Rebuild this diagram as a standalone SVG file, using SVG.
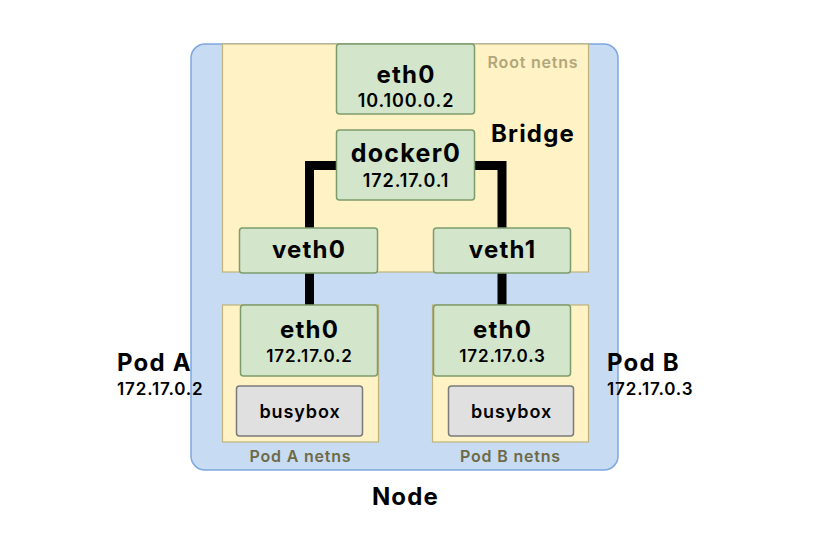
<svg xmlns="http://www.w3.org/2000/svg" width="824" height="559" viewBox="0 0 824 559">
<style>
text{font-family:Inter,"Noto Sans","Liberation Sans",sans-serif;text-anchor:middle;fill:#000;letter-spacing:0.05em}
.b{font-weight:700}
.s{font-weight:600}
.ns{fill:#fff2c4;stroke:#bfb27a;stroke-width:1.2}
.if{fill:#d3e6cb;stroke:#7d9c6c;stroke-width:1.5}
.bb{fill:#e0e0e0;stroke:#7a7a7a;stroke-width:1.5}
.wire{fill:none;stroke:#000;stroke-width:9}
</style>
<rect width="824" height="559" fill="#fff"/>
<g id="node">
<rect x="191" y="44" width="427" height="426" rx="14" fill="#c7dcf3" stroke="#7ea6e0" stroke-width="1.5"/>
<text class="b" x="405.5" y="505" font-size="24">Node</text>
</g>
<g id="root-netns">
<rect class="ns" x="222.5" y="44" width="366" height="228"/>
<text class="s" x="533" y="68" font-size="16" style="fill:#b1a77b">Root netns</text>
<text class="b" x="533" y="142" font-size="24">Bridge</text>
</g>
<g id="pod-a-netns">
<rect class="ns" x="222.5" y="305" width="156" height="137"/>
<text class="s" x="300.5" y="462" font-size="16" style="fill:#6e6a45">Pod A netns</text>
</g>
<g id="pod-b-netns">
<rect class="ns" x="432.5" y="305" width="156" height="137"/>
<text class="s" x="510.5" y="462" font-size="16" style="fill:#6e6a45">Pod B netns</text>
</g>
<g id="connectors">
<path class="wire" d="M337 165.5H309.5V229"/>
<path class="wire" d="M473 165.5H502V229"/>
<path class="wire" d="M309.5 272V306"/>
<path class="wire" d="M502 272V306"/>
</g>
<g id="eth0-root">
<rect class="if" x="336.5" y="44" width="138" height="70" rx="3"/>
<text class="b" x="406" y="83" font-size="24">eth0</text>
<text class="s" x="406" y="107" font-size="18">10.100.0.2</text>
</g>
<g id="docker0">
<rect class="if" x="336.5" y="130" width="138" height="70" rx="3"/>
<text class="b" x="406" y="162" font-size="25">docker0</text>
<text class="s" x="406" y="187" font-size="18">172.17.0.1</text>
</g>
<g id="veth0">
<rect class="if" x="239.5" y="228" width="138" height="45" rx="3"/>
<text class="b" x="309" y="258" font-size="24">veth0</text>
</g>
<g id="veth1">
<rect class="if" x="433.5" y="228" width="137" height="45" rx="3"/>
<text class="b" x="502.5" y="258" font-size="24">veth1</text>
</g>
<g id="eth0-pod-a">
<rect class="if" x="240.5" y="305" width="137" height="71" rx="3"/>
<text class="b" x="309.5" y="338" font-size="24">eth0</text>
<text class="s" x="309.5" y="362" font-size="17">172.17.0.2</text>
</g>
<g id="eth0-pod-b">
<rect class="if" x="433.5" y="305" width="137" height="71" rx="3"/>
<text class="b" x="502.5" y="338" font-size="24">eth0</text>
<text class="s" x="502.5" y="362" font-size="17">172.17.0.3</text>
</g>
<g id="busybox-a">
<rect class="bb" x="236.5" y="386" width="126" height="50" rx="3"/>
<text class="s" x="300" y="418" font-size="18">busybox</text>
</g>
<g id="busybox-b">
<rect class="bb" x="448.5" y="386" width="125" height="50" rx="3"/>
<text class="s" x="511.5" y="418" font-size="18">busybox</text>
</g>
<g id="pod-a-label">
<text class="b" x="117" y="371" font-size="24" style="text-anchor:start">Pod A</text>
<text class="s" x="117" y="395" font-size="17" style="text-anchor:start">172.17.0.2</text>
</g>
<g id="pod-b-label">
<text class="b" x="607" y="371" font-size="24" style="text-anchor:start">Pod B</text>
<text class="s" x="607" y="395" font-size="17" style="text-anchor:start">172.17.0.3</text>
</g>
</svg>
